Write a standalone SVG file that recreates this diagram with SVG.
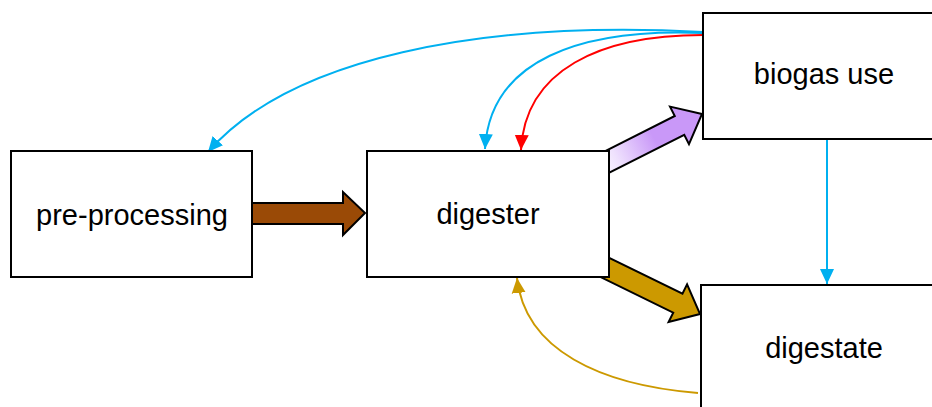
<svg xmlns="http://www.w3.org/2000/svg" width="932" height="407" viewBox="0 0 932 407">
<style>
.box{fill:#ffffff;stroke:#000000;stroke-width:2}
.lbl{font-family:"Liberation Sans",Arial,sans-serif;font-size:29px;fill:#000000;text-anchor:middle}
.blk{stroke:#000000;stroke-width:2;stroke-linejoin:miter}
.cv{fill:none;stroke-width:2}
</style>
<defs>
<marker id="mb" markerUnits="userSpaceOnUse" markerWidth="16" markerHeight="16" viewBox="0 0 16 16" refX="15" refY="8" orient="auto"><path d="M0,1 L15,8 L0,15 Z" fill="#00B0F0"/></marker>
<marker id="mr" markerUnits="userSpaceOnUse" markerWidth="16" markerHeight="16" viewBox="0 0 16 16" refX="15" refY="8" orient="auto"><path d="M0,1 L15,8 L0,15 Z" fill="#FF0000"/></marker>
<marker id="mg" markerUnits="userSpaceOnUse" markerWidth="16" markerHeight="16" viewBox="0 0 16 16" refX="15" refY="8" orient="auto"><path d="M0,1 L15,8 L0,15 Z" fill="#CC9900"/></marker>
<linearGradient id="pg" x1="0" y1="0" x2="1" y2="0">
<stop offset="0" stop-color="#FFFFFF"/>
<stop offset="0.2" stop-color="#EEE0FD"/>
<stop offset="0.55" stop-color="#C998F8"/>
<stop offset="1" stop-color="#C998F8"/>
</linearGradient>
</defs>
<g id="connectors">
<path class="cv" stroke="#00B0F0" d="M703,32 C480,20 290,58 208,152" marker-end="url(#mb)"/>
<path class="cv" stroke="#00B0F0" d="M703,33 C580,28 490,60 485,149" marker-end="url(#mb)"/>
<path class="cv" stroke="#FF0000" d="M703,35 C600,35 525,70 521,150" marker-end="url(#mr)"/>
<path class="cv" stroke="#00B0F0" d="M827,140 L827,284" marker-end="url(#mb)"/>
<path class="cv" stroke="#CC9900" d="M698,393 C600,385 525,350 517,278" marker-end="url(#mg)"/>
<polygon class="blk" fill="#9A4A06" points="240,203 343,203 343,192 365,213 343,235 343,224 240,224"/>
<g transform="translate(609,161) rotate(-26.8)">
<polygon class="blk" fill="url(#pg)" points="-15,-10.5 79,-10.5 79,-21 104.2,0 79,21 79,10.5 -15,10.5"/>
</g>
<g transform="translate(606,268) rotate(26.1)">
<polygon class="blk" fill="#CC9900" points="-15,-10.5 80,-10.5 80,-21 104.7,0 80,21 80,10.5 -15,10.5"/>
</g>
</g>
<g id="pre-processing">
<rect class="box" x="11" y="151" width="241" height="126"/>
<text class="lbl" x="132" y="225">pre-processing</text>
</g>
<g id="digester">
<rect class="box" x="367" y="151" width="242" height="126"/>
<text class="lbl" x="488" y="224">digester</text>
</g>
<g id="biogas-use">
<rect class="box" x="703" y="13" width="240" height="126"/>
<text class="lbl" x="824" y="84">biogas use</text>
</g>
<g id="digestate">
<rect class="box" x="701" y="285" width="240" height="130"/>
<text class="lbl" x="824" y="358">digestate</text>
</g>
</svg>
